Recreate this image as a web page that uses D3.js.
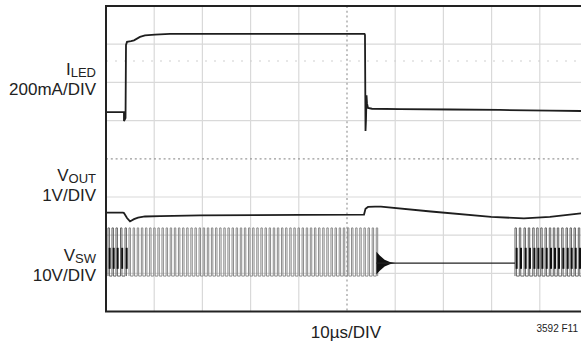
<!DOCTYPE html>
<html>
<head>
<meta charset="utf-8">
<script src="https://cdn.jsdelivr.net/npm/d3@7"></script>
<style>
  body { margin: 0; background: #fff; }
  text { font-family: "Liberation Sans", Arial, sans-serif; fill: #222; }
</style>
</head>
<body>
<svg id="scope" width="581" height="344"></svg>
<script>
// time in us (10us/DIV, 10 divisions), amplitude in screen divisions (0 = bottom, 8 = top)
var iledT = [0, 3.73, 3.73, 4.05, 4.15, 4.36, 5.19, 5.81, 7.05, 8.09, 10.17, 13.28, 19.5, 29.88, 40.25, 48.55, 53.63, 53.73, 53.84, 53.94, 54.05, 54.15, 54.36, 55.19, 61.0, 71.4, 81.7, 92.1, 100];
var iledV = [5.22, 5.22, 4.99, 5.07, 6.98, 7.06, 7.08, 7.10, 7.19, 7.23, 7.25, 7.27, 7.27, 7.27, 7.27, 7.27, 7.27, 7.24, 4.73, 5.02, 5.66, 5.45, 5.33, 5.31, 5.30, 5.29, 5.28, 5.26, 5.25];

var voutT = [0, 3.53, 3.73, 4.36, 4.98, 5.81, 6.64, 8.09, 11.2, 19.5, 40.25, 53.53, 53.84, 54.36, 55.8, 57.05, 67.4, 79.9, 86.7, 92.1, 98.5, 100];
var voutV = [2.59, 2.59, 2.58, 2.45, 2.36, 2.42, 2.46, 2.49, 2.50, 2.52, 2.53, 2.54, 2.69, 2.74, 2.75, 2.75, 2.62, 2.48, 2.44, 2.48, 2.57, 2.59];

// switch node: pulse start times per burst
var swBurst1 = [0.41, 1.24, 2.07, 3.01, 3.94];
var swBurst2 = [4.77, 5.63, 6.48, 7.34, 8.19, 9.05, 9.90, 10.76, 11.61, 12.47, 13.32, 14.18, 15.03, 15.89, 16.74, 17.60, 18.45, 19.31, 20.16, 21.02, 21.87, 22.73, 23.58, 24.44, 25.29, 26.15, 27.00, 27.86, 28.71, 29.57, 30.42, 31.28, 32.13, 32.99, 33.84, 34.70, 35.55, 36.41, 37.26, 38.12, 38.97, 39.83, 40.68, 41.54, 42.39, 43.25, 44.10, 44.96, 45.81, 46.67, 47.52, 48.38, 49.23, 50.09, 50.94, 51.80, 52.65, 53.51, 54.36, 55.22, 56.07];
var swBurst3 = [84.85, 85.75, 86.72, 87.61, 88.53, 89.36, 90.19, 91.08, 91.97, 92.80, 93.63, 94.54, 95.44, 96.27, 97.10, 97.99, 98.86];
var swHigh = 2.19, swLow = 0.93, swMid = 1.27;
var ringT = [56.1, 56.8, 57.8, 58.9, 60.0];
var ringAmp = [0.3, 0.2, 0.09, 0.03, 0.0];

var labels = [
  {main: "I", sub: "LED", scale: "200mA/DIV", y: 75},
  {main: "V", sub: "OUT", scale: "1V/DIV", y: 181},
  {main: "V", sub: "SW", scale: "10V/DIV", y: 261}
];

var svg = d3.select("#scope");
var x = d3.scaleLinear().domain([0, 100]).range([106, 588]);
var y = d3.scaleLinear().domain([0, 8]).range([311.6, 6]);

// grid
var grid = svg.append("g");
grid.selectAll(".vg").data(d3.range(10, 100, 10).filter(function(d) { return d != 50; }))
  .enter().append("line")
  .attr("x1", function(d) { return x(d); }).attr("x2", function(d) { return x(d); })
  .attr("y1", y(8)).attr("y2", y(0))
  .attr("stroke", "#d9d9d9").attr("stroke-width", 1.2);
grid.selectAll(".hg").data(d3.range(1, 8).filter(function(d) { return d != 4; }))
  .enter().append("line")
  .attr("x1", x(0)).attr("x2", 581)
  .attr("y1", function(d) { return y(d); }).attr("y2", function(d) { return y(d); })
  .attr("stroke", "#d9d9d9").attr("stroke-width", 1.2);
// center lines
grid.append("line")
  .attr("x1", x(50)).attr("x2", x(50)).attr("y1", y(8)).attr("y2", y(0))
  .attr("stroke", "#999").attr("stroke-width", 1.2).attr("stroke-dasharray", "2,2.8");
grid.append("line")
  .attr("x1", x(0)).attr("x2", 581).attr("y1", y(4)).attr("y2", y(4))
  .attr("stroke", "#999").attr("stroke-width", 1.2).attr("stroke-dasharray", "2,2.8");
// cursor
grid.append("line")
  .attr("x1", x(0)).attr("x2", 581).attr("y1", y(6.56)).attr("y2", y(6.56))
  .attr("stroke", "#d0d0d0").attr("stroke-width", 1.2).attr("stroke-dasharray", "2,7");

var line = d3.line().x(function(d) { return x(d[0]); }).y(function(d) { return y(d[1]); });

// VSW
function pulses(ts) {
  var pts = [];
  ts.forEach(function(t) {
    pts.push([t, swLow], [t, swHigh], [t + 0.3, swHigh], [t + 0.3, swLow]);
  });
  return pts;
}
svg.append("path").attr("d", line(pulses(swBurst2)))
  .attr("fill", "none").attr("stroke", "#8c8c8c").attr("stroke-width", 1);
[swBurst1, swBurst3].forEach(function(b) {
  svg.append("path").attr("d", line(pulses(b)))
    .attr("fill", "none").attr("stroke", "#666").attr("stroke-width", 1);
  svg.selectAll(null).data(b).enter().append("line")
    .attr("x1", function(t) { return x(t + 0.35); }).attr("x2", function(t) { return x(t + 0.35); })
    .attr("y1", y(swMid + 0.4)).attr("y2", y(swMid - 0.15))
    .attr("stroke", "#111").attr("stroke-width", 2);
});
var ring = ringT.map(function(t, i) { return [t, swMid + ringAmp[i]]; })
  .concat(ringT.map(function(t, i) { return [t, swMid - ringAmp[i]]; }).reverse());
svg.append("path").attr("d", line(ring) + "Z").attr("fill", "#111");
svg.append("path").attr("d", line([[ringT[0], swMid], [swBurst3[0], swMid]]))
  .attr("fill", "none").attr("stroke", "#222").attr("stroke-width", 1.2);

// VOUT and ILED
svg.append("path").attr("d", line(voutT.map(function(t, i) { return [t, voutV[i]]; })))
  .attr("fill", "none").attr("stroke", "#1e1e1e").attr("stroke-width", 1.8);
svg.append("path").attr("d", line(iledT.map(function(t, i) { return [t, iledV[i]]; })))
  .attr("fill", "none").attr("stroke", "#1e1e1e").attr("stroke-width", 1.8);

// frame
svg.append("path")
  .attr("d", "M" + 581 + "," + y(8) + "H" + x(0) + "V" + y(0) + "H" + 581)
  .attr("fill", "none").attr("stroke", "#222").attr("stroke-width", 2);

// labels
var lab = svg.append("g").attr("text-anchor", "end");
labels.forEach(function(d) {
  var t = lab.append("text").attr("x", 96).attr("y", d.y).style("font-size", "17px");
  t.append("tspan").text(d.main);
  t.append("tspan").attr("dy", 2).style("font-size", "13px").text(d.sub);
  lab.append("text").attr("x", 96).attr("y", d.y + 20).style("font-size", "17px").text(d.scale);
});
svg.append("text").attr("x", 346).attr("y", 338).attr("text-anchor", "middle")
  .style("font-size", "17px").text("10µs/DIV");
svg.append("text").attr("x", 578).attr("y", 332).attr("text-anchor", "end")
  .style("font-size", "10px").text("3592 F11");
</script>
</body>
</html>
